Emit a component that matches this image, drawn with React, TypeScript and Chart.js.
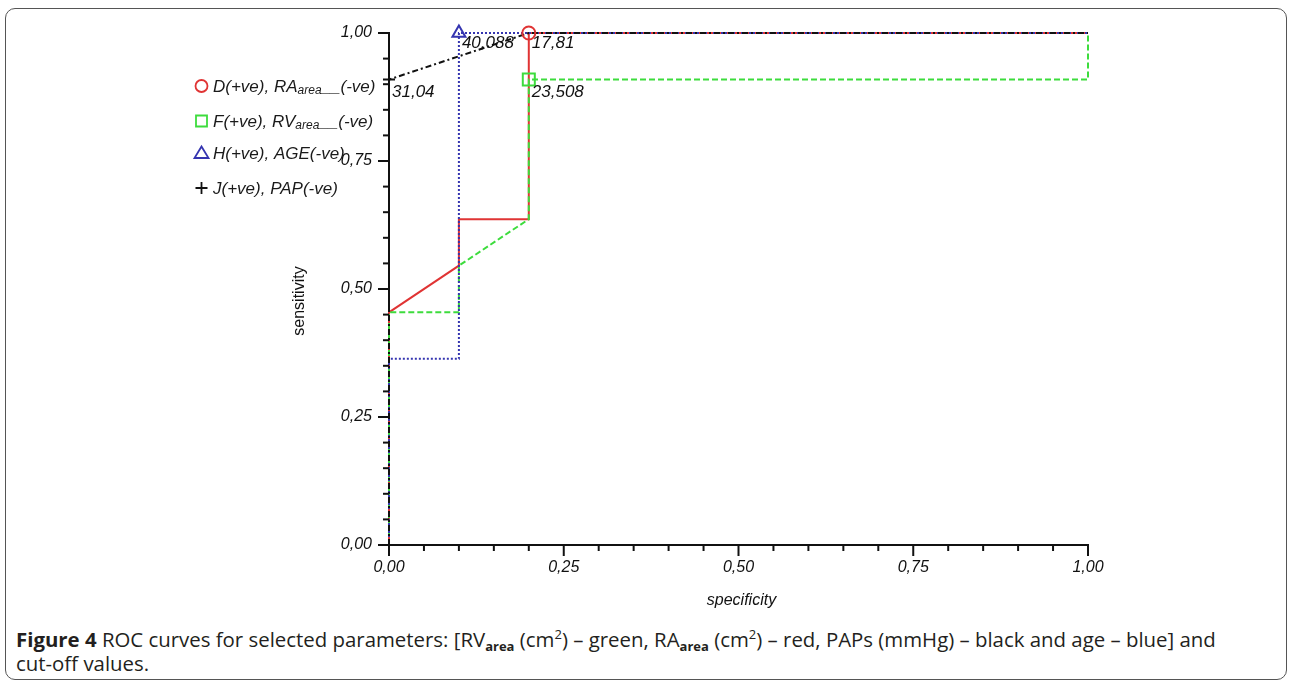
import React, { useEffect, useRef } from 'react';
import { Chart, registerables } from 'chart.js';

Chart.register(...registerables);

// ---- data ----
const tickValues = [0, 0.25, 0.5, 0.75, 1];
const tickLabels = ['0,00', '0,25', '0,50', '0,75', '1,00'];
const minorTickValues = [0, 0.05, 0.1, 0.15, 0.2, 0.25, 0.3, 0.35, 0.4, 0.45, 0.5, 0.55, 0.6, 0.65, 0.7, 0.75, 0.8, 0.85, 0.9, 0.95, 1];

// RA area (red, solid)
const redX = [0, 0, 0.1, 0.1, 0.2, 0.2, 1.0];
const redY = [0, 0.4545, 0.5455, 0.6364, 0.6364, 1.0, 1.0];
// RV area (green, dashed)
const greenX = [0, 0, 0.1, 0.1, 0.2, 0.2, 1.0, 1.0];
const greenY = [0, 0.4545, 0.4545, 0.5455, 0.6364, 0.9091, 0.9091, 1.0];
// AGE (blue, dotted)
const blueX = [0, 0, 0.1, 0.1, 1.0];
const blueY = [0, 0.3636, 0.3636, 1.0, 1.0];
// PAP (black, dash-dot)
const blackX = [0, 0, 0.2, 1.0];
const blackY = [0, 0.9091, 1.0, 1.0];

// cut-off points
const cutoffX = [0.2, 0.2, 0.1, 0];
const cutoffY = [1.0, 0.9091, 1.0, 0.9091];
const cutoffLabels = ['17,81', '23,508', '40,088', '31,04'];

// legend
const legendMain = ['D(+ve), RA', 'F(+ve), RV', 'H(+ve), AGE(-ve)', 'J(+ve), PAP(-ve)'];
const legendSub = ['area', 'area', '', ''];
const legendRest = ['__(-ve)', '__(-ve)', '', ''];

const RED = '#e03434';
const GREEN = '#3ddc3d';
const BLUE = '#3535b0';
const BLACK = '#111111';
const colors = [RED, GREEN, BLUE, BLACK];
const styles = ['circle', 'rect', 'triangle', 'cross'];
const radii = [6.5, 8.5, 7.5, 6];

const FONT = '"Liberation Sans", Arial, sans-serif';

const pts = (xs: number[], ys: number[]) => xs.map((x, i) => ({ x, y: ys[i] }));

function drawMarker(ctx: CanvasRenderingContext2D, style: string, x: number, y: number, color: string) {
  ctx.save();
  ctx.strokeStyle = color;
  ctx.lineWidth = 1.8;
  ctx.beginPath();
  if (style === 'circle') {
    ctx.arc(x, y, 6, 0, Math.PI * 2);
  } else if (style === 'rect') {
    ctx.rect(x - 5.5, y - 5.5, 11, 11);
  } else if (style === 'triangle') {
    ctx.moveTo(x, y - 6.5);
    ctx.lineTo(x + 7, y + 5);
    ctx.lineTo(x - 7, y + 5);
    ctx.closePath();
  } else {
    ctx.moveTo(x - 6, y);
    ctx.lineTo(x + 6, y);
    ctx.moveTo(x, y - 6);
    ctx.lineTo(x, y + 6);
  }
  ctx.stroke();
  ctx.restore();
}

const overlayPlugin = {
  id: 'overlay',
  afterDraw(chart: any) {
    const ctx: CanvasRenderingContext2D = chart.ctx;
    const xs = chart.scales.x;
    const ys = chart.scales.y;
    ctx.save();
    // tick marks
    ctx.strokeStyle = BLACK;
    ctx.lineWidth = 2;
    minorTickValues.forEach((v, i) => {
      const major = i % 5 === 0;
      const len = major ? 11 : 6;
      const px = xs.getPixelForValue(v);
      ctx.beginPath();
      ctx.moveTo(px, xs.top);
      ctx.lineTo(px, xs.top + len);
      ctx.stroke();
      const py = ys.getPixelForValue(v);
      ctx.beginPath();
      ctx.moveTo(ys.right, py);
      ctx.lineTo(ys.right - len, py);
      ctx.stroke();
    });

    // cut-off labels
    ctx.fillStyle = BLACK;
    ctx.font = `italic 17px ${FONT}`;
    ctx.textBaseline = 'top';
    ctx.textAlign = 'left';
    cutoffLabels.forEach((t, i) => {
      const px = xs.getPixelForValue(cutoffX[i]);
      const py = ys.getPixelForValue(cutoffY[i]);
      ctx.fillText(t, px + 3, py + (i === 0 || i === 2 ? 2 : 4));
    });

    // axis titles
    ctx.font = `16px ${FONT}`;
    ctx.textAlign = 'center';
    ctx.textBaseline = 'middle';
    ctx.save();
    ctx.translate(300, (ys.top + ys.bottom) / 2 + 12);
    ctx.rotate(-Math.PI / 2);
    ctx.fillText('sensitivity', 0, 0);
    ctx.restore();
    ctx.font = `italic 16px ${FONT}`;
    ctx.fillText('specificity', (xs.left + xs.right) / 2 + 3, 601);

    // legend
    const baselines = [92, 127, 159, 194];
    ctx.textAlign = 'left';
    ctx.textBaseline = 'alphabetic';
    legendMain.forEach((t, i) => {
      const by = baselines[i];
      drawMarker(ctx, styles[i], 201.5, by - 6, colors[i]);
      let x = 213;
      ctx.font = `italic 17px ${FONT}`;
      ctx.fillStyle = '#1a1a1a';
      ctx.fillText(t, x, by);
      x += ctx.measureText(t).width;
      if (legendSub[i]) {
        ctx.font = `italic 12px ${FONT}`;
        ctx.fillText(legendSub[i], x, by + 2);
        x += ctx.measureText(legendSub[i]).width;
      }
      if (legendRest[i]) {
        ctx.font = `italic 17px ${FONT}`;
        ctx.fillText(legendRest[i], x, by);
      }
    });
    ctx.restore();
  },
};

export default function App() {
  const ref = useRef<HTMLCanvasElement | null>(null);

  useEffect(() => {
    if (!ref.current) return;
    const lineDs = (label: string, data: any, color: string, dash: number[], order: number) => ({
      label,
      data,
      showLine: true,
      borderColor: color,
      backgroundColor: color,
      borderWidth: 2,
      borderDash: dash,
      pointRadius: 0,
      fill: false,
      tension: 0,
      order,
      clip: false,
    });
    const markerDs = (i: number) => ({
      label: 'cut-off ' + cutoffLabels[i],
      data: [{ x: cutoffX[i], y: cutoffY[i] }],
      showLine: false,
      pointStyle: styles[i],
      pointRadius: radii[i],
      pointBorderColor: colors[i],
      pointBorderWidth: 2,
      pointBackgroundColor: 'rgba(0,0,0,0)',
      order: 0,
      clip: false,
    });
    const chart = new Chart(ref.current, {
      type: 'scatter',
      data: {
        datasets: [
          lineDs('RA area', pts(redX, redY), RED, [], 4),
          lineDs('RV area', pts(greenX, greenY), GREEN, [6, 3], 3),
          lineDs('AGE', pts(blueX, blueY), BLUE, [2, 2], 2),
          lineDs('PAP', pts(blackX, blackY), BLACK, [6, 3, 2, 3], 1),
          markerDs(0),
          markerDs(1),
          markerDs(2),
          markerDs(3),
        ] as any,
      },
      options: {
        animation: false,
        responsive: false,
        maintainAspectRatio: false,
        devicePixelRatio: 1,
        layout: { padding: { left: 289, right: 201, top: 33, bottom: 35 } },
        plugins: { legend: { display: false }, tooltip: { enabled: false } },
        scales: {
          x: {
            type: 'linear',
            min: 0,
            max: 1,
            afterFit: (s: any) => {
              s.height = 40;
            },
            afterBuildTicks: (s: any) => {
              s.ticks = tickValues.map((v) => ({ value: v }));
            },
            grid: { display: false, drawTicks: false },
            border: { display: true, color: BLACK, width: 2 },
            ticks: {
              padding: 13,
              color: BLACK,
              autoSkip: false,
              maxRotation: 0,
              font: { family: FONT, size: 16, style: 'italic' },
              callback: (_v: any, i: number) => tickLabels[i],
            },
          },
          y: {
            type: 'linear',
            min: 0,
            max: 1,
            afterFit: (s: any) => {
              s.width = 100;
            },
            afterBuildTicks: (s: any) => {
              s.ticks = tickValues.map((v) => ({ value: v }));
            },
            grid: { display: false, drawTicks: false },
            border: { display: true, color: BLACK, width: 2 },
            ticks: {
              padding: 17,
              color: BLACK,
              autoSkip: false,
              font: { family: FONT, size: 16, style: 'italic' },
              callback: (_v: any, i: number) => tickLabels[i],
            },
          },
        },
      } as any,
      plugins: [overlayPlugin],
    });
    return () => chart.destroy();
  }, []);

  const sub: React.CSSProperties = { fontSize: '13px', position: 'relative', top: '4px', fontWeight: 700, lineHeight: 0 };
  const sup: React.CSSProperties = { fontSize: '13px', position: 'relative', top: '-8px', lineHeight: 0 };

  return (
    <div style={{ position: 'absolute', left: 0, top: 0, width: 1289, height: 683, background: '#fff', overflow: 'hidden' }}>
      <div
        style={{
          position: 'absolute',
          left: 5,
          top: 8,
          width: 1282,
          height: 672,
          border: '1.5px solid #555',
          borderRadius: 10,
          boxSizing: 'border-box',
        }}
      />
      <canvas ref={ref} width={1289} height={620} style={{ position: 'absolute', left: 0, top: 0 }} />
      <div
        style={{
          position: 'absolute',
          left: 16,
          top: 627,
          width: 1265,
          fontFamily: '"Open Sans", "Noto Sans", sans-serif',
          fontSize: '20.4px',
          lineHeight: '24px',
          color: '#231f20',
          whiteSpace: 'nowrap',
        }}
      >
        <b>Figure 4</b> ROC curves for selected parameters: [RV<span style={sub}>area</span> (cm<span style={sup}>2</span>) – green, RA
        <span style={sub}>area</span> (cm<span style={sup}>2</span>) – red, PAPs (mmHg) – black and age – blue] and
        <br />
        cut-off values.
      </div>
    </div>
  );
}
